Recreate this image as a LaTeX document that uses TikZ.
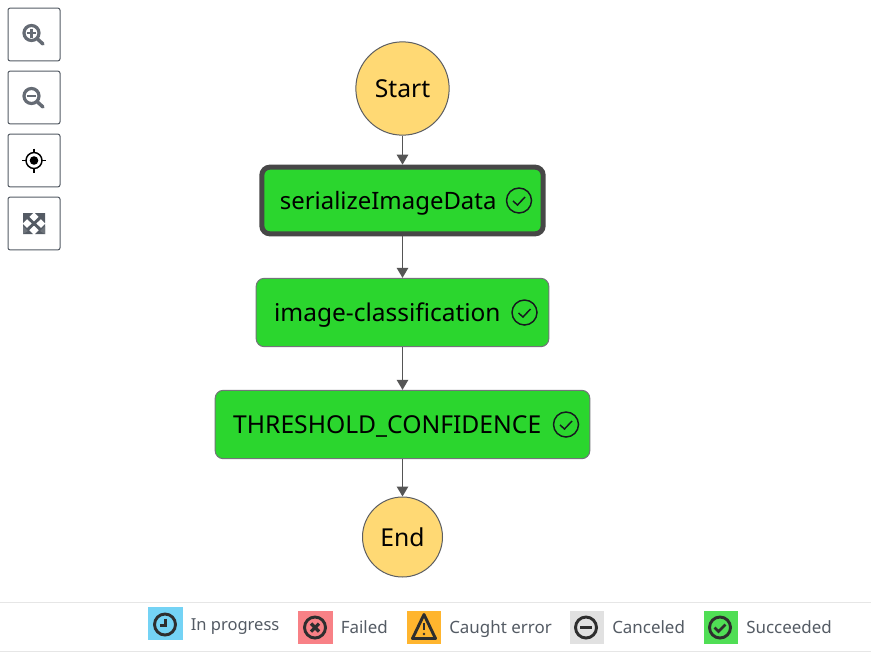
\documentclass[tikz,border=0pt]{standalone}
\usepackage{fontspec}
\setmainfont{Noto Sans}
\usetikzlibrary{arrows.meta,positioning}
\definecolor{ink}{HTML}{16191F}
\definecolor{edgegray}{HTML}{555555}
\definecolor{startfill}{HTML}{FFD974}
\definecolor{okgreen}{HTML}{2BD62E}
\definecolor{uigray}{HTML}{545B64}
\definecolor{icondark}{HTML}{2E2E2E}
\definecolor{legendtext}{HTML}{545B64}
\definecolor{rulelight}{HTML}{E6E6E6}
\definecolor{swblue}{HTML}{74D3F5}
\definecolor{swred}{HTML}{F88186}
\definecolor{sworange}{HTML}{FFB52E}
\definecolor{swgray}{HTML}{E1E1E1}
\definecolor{swgreen}{HTML}{50DE55}
\tikzset{
  x=0.75pt,y=-0.75pt,
  statecircle/.style={circle,draw=ink!70,line width=0.75pt,fill=startfill,inner sep=0pt,font=\fontsize{18.5pt}{22pt}\selectfont,text=black},
  taskbox/.style={rectangle,rounded corners=6pt,draw=ink!60,line width=0.75pt,fill=okgreen,inner xsep=13.5pt,inner ysep=0pt,align=left,text height=16.4pt,text depth=3.6pt,text=black},
  selected/.style={draw=black!72,line width=3.75pt,rounded corners=6pt},
  flow/.style={draw=edgegray,line width=1.4pt,-{Triangle[length=7.5pt,width=8.5pt]}},
  toolbtn/.style={rectangle,draw=uigray,line width=0.75pt,rounded corners=1.5pt,fill=white,minimum width=39pt,minimum height=39.5pt,inner sep=0pt},
  swatch/.style={rectangle,inner sep=0pt,minimum width=26pt,minimum height=24.75pt},
  legendlabel/.style={anchor=base west,inner sep=0pt,text=legendtext,font=\fontsize{12.7pt}{16pt}\selectfont},
  tool/.style={draw=uigray,line width=2pt,line cap=round},
  licon/.style={draw=icondark,line width=2.2pt},
  tinycheck/.style={draw=ink,line width=1.1pt}
}
\newcommand{\okcheck}[2]{%
  \draw[tinycheck] (#1,#2) circle (12.5);
  \draw[tinycheck] (#1-6,#2+0.5) -- (#1-1.5,#2+4.5) -- (#1+6,#2-3.5);
}
\begin{document}
\begin{tikzpicture}
\useasboundingbox[fill=white] (0,0) rectangle (871,654);

% graph
\node[statecircle,minimum size=70pt] (start) at (402.5,88.5) {Start};
\node[taskbox,selected,text width=184pt,minimum height=50pt,font=\fontsize{17.95pt}{22pt}\selectfont] (ser) at (402.5,200.5) {serializeImageData};
\node[taskbox,text width=192.5pt,minimum height=51.25pt,font=\fontsize{18.35pt}{22pt}\selectfont] (img) at (402.5,312.5) {image-classification};
\node[taskbox,text width=254pt,minimum height=51.25pt,font=\fontsize{18.5pt}{22pt}\selectfont] (thr) at (402.5,424.5) {THRESHOLD\_CONFIDENCE};
\node[statecircle,minimum size=60pt] (end) at (402.5,537) {End};

\draw[flow] (start) -- (ser);
\draw[flow] (ser) -- (img);
\draw[flow] (img) -- (thr);
\draw[flow] (thr) -- (end);

\okcheck{519}{200.5}
\okcheck{524.5}{312.5}
\okcheck{566}{424.5}

% toolbar
\node[toolbtn] (b1) at (34,34.5) {};
\node[toolbtn] (b2) at (34,97.5) {};
\node[toolbtn] (b3) at (34,160.5) {};
\node[toolbtn] (b4) at (34,223.5) {};

\draw[tool,line width=2.4pt,draw=uigray!90] (31.5,33) circle (7.5);
\draw[tool,line width=2.6pt,draw=uigray!90] (37.5,39) -- (43,44);
\draw[tool,line width=1.8pt,line cap=butt,draw=uigray!90] (27,33) -- (36,33) (31.5,28.5) -- (31.5,37.5);

\draw[tool,line width=2.4pt,draw=uigray!90] (31.5,96) circle (7.5);
\draw[tool,line width=2.6pt,draw=uigray!90] (37.5,102) -- (43,107);
\draw[tool,line width=1.8pt,line cap=butt,draw=uigray!90] (27,96) -- (36,96);

\draw[draw=black,line width=1.1pt] (34,160.5) circle (8);
\fill[black] (34,160.5) circle (4.3);
\draw[black,line width=0.9pt] (34,148.5) -- (34,153) (34,168) -- (34,172.5) (22,160.5) -- (26.5,160.5) (41.5,160.5) -- (46,160.5);

% expand icon: corner arrows meeting in an X, with wedges along the edges
\draw[uigray,line width=2.2pt] (25,215) -- (43,232) (43,215) -- (25,232);
\fill[uigray] (23,213) -- (33,213) -- (23,223) -- cycle (45,213) -- (35,213) -- (45,223) -- cycle (23,234) -- (33,234) -- (23,224) -- cycle (45,234) -- (35,234) -- (45,224) -- cycle;
\fill[uigray!85] (23,226) -- (28,231) -- (23,234) -- cycle (45,226) -- (40,231) -- (45,234) -- cycle;

% legend rules
\draw[rulelight,line width=0.9pt] (0,602.5) -- (871,602.5);
\draw[rulelight,line width=1.2pt] (0,651.5) -- (871,651.5);

% legend swatches
\node[swatch,fill=swblue] (s1) at (165.5,623.5) {};
\node[swatch,fill=swred] (s2) at (315.5,627.5) {};
\node[swatch,fill=sworange] (s3) at (424,627.5) {};
\node[swatch,fill=swgray] (s4) at (587,627.5) {};
\node[swatch,fill=swgreen] (s5) at (721,627.5) {};

\node[legendlabel,font=\fontsize{12.4pt}{16pt}\selectfont] (l1) at (190.5,630) {In progress};
\node[legendlabel] (l2) at (340.5,633.3) {Failed};
\node[legendlabel] (l3) at (449,633.3) {Caught error};
\node[legendlabel] (l4) at (612,633.3) {Canceled};
\node[legendlabel] (l5) at (746,633.3) {Succeeded};

% legend icons
\draw[licon] (165,624.5) circle (10.5);
\draw[licon,line width=2pt] (165.5,618.5) -- (165.5,625.5) -- (159.5,625.5);

\draw[licon] (315,627.5) circle (10.5);
\draw[licon,line width=2.4pt] (311,623.5) -- (319,631.5) (319,623.5) -- (311,631.5);

\draw[licon,line join=round] (424,614.5) -- (435.5,638.5) -- (412.5,638.5) -- cycle;
\draw[licon,line width=2pt] (424,622.5) -- (424,630);
\fill[icondark] (424,634) circle (1.4);

\draw[licon] (586,627.5) circle (10.5);
\draw[licon,line width=2.4pt] (580,627.5) -- (592,627.5);

\draw[licon] (720,627.5) circle (10.5);
\draw[licon,line width=2pt] (714.5,627.5) -- (718.5,631.5) -- (725.5,624.5);
\end{tikzpicture}
\end{document}
